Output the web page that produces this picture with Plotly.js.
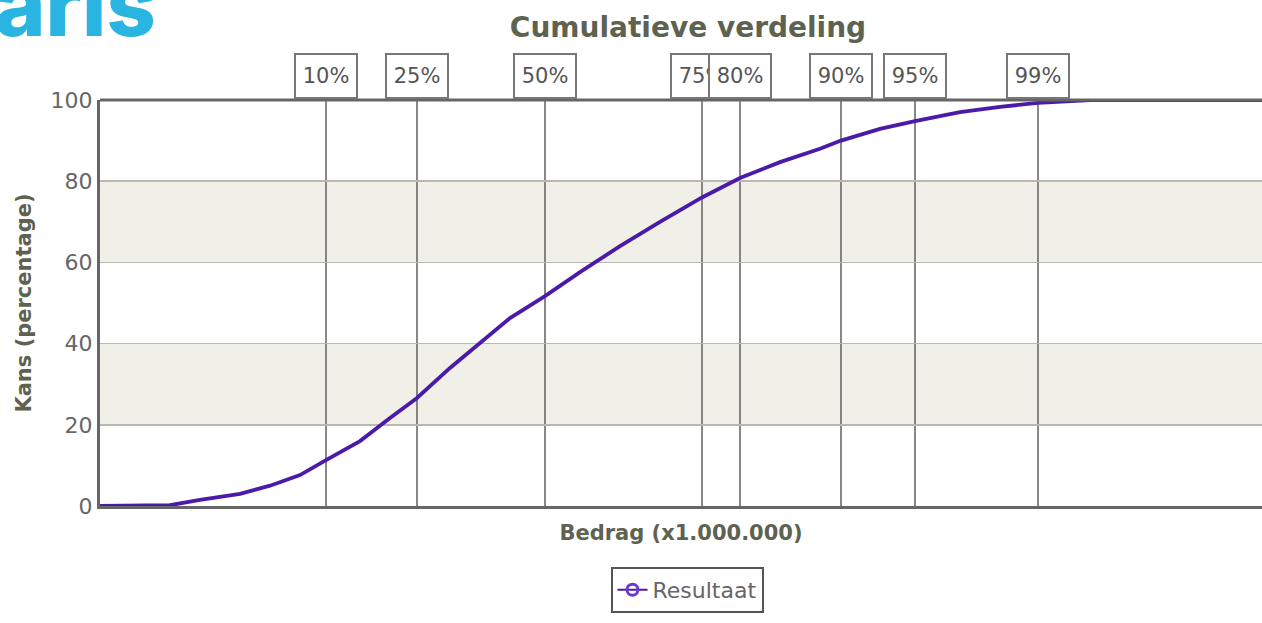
<!DOCTYPE html>
<html><head><meta charset="utf-8">
<script src="https://cdn.plot.ly/plotly-3.0.1.min.js"></script>
<style>html,body{margin:0;padding:0;background:#fff}#c{width:1262px;height:623px}</style>
</head><body><div id="c"></div>
<script>
// Bedrag (x1.000.000) — cumulative curve
const bedrag = [0, 0.70, 1.00, 1.40, 1.70, 2.00, 2.26, 2.60, 2.90, 3.17, 3.50, 3.80, 4.10, 4.45, 4.80, 5.20, 5.60, 6.02, 6.40, 6.80, 7.20, 7.41, 7.80, 8.15, 8.60, 9.00, 9.38, 9.90, 11.62];
const kans   = [0, 0.2, 1.5, 3.0, 5.0, 7.6, 11.3, 16.0, 21.7, 26.6, 34.0, 40.0, 46.3, 51.7, 57.6, 64.0, 70.0, 76.0, 80.8, 84.7, 88.0, 90.0, 92.9, 94.8, 97.0, 98.3, 99.3, 100, 100];
const percentielLabels = ["10%", "25%", "50%", "75%", "80%", "90%", "95%", "99%"];
const percentielBedrag = [2.26, 3.17, 4.45, 6.02, 6.40, 7.41, 8.15, 9.38];
const yTicks = [0, 20, 40, 60, 80, 100];

const font = "DejaVu Sans, Verdana, sans-serif";
const shapes = [];
[[20,40],[60,80]].forEach(b => shapes.push({type:'rect', xref:'paper', yref:'y', x0:0, x1:1, y0:b[0], y1:b[1], fillcolor:'#f0f0e9', line:{width:0}, layer:'below'}));
percentielBedrag.forEach(v => shapes.push({type:'line', xref:'x', yref:'paper', x0:v, x1:v, y0:0, y1:1, line:{color:'#606060', width:1.5}, layer:'below'}));
shapes.push({type:'line', xref:'paper', yref:'paper', x0:0, x1:1, y0:1, y1:1, line:{color:'#666', width:3}});

const annotations = percentielLabels.map((t,i) => ({
  text:t, xref:'x', yref:'paper', x:percentielBedrag[i], y:1.003, xanchor:'center', yanchor:'bottom',
  showarrow:false, bgcolor:'#fff', bordercolor:'#777', borderwidth:2, width:58, height:40,
  font:{family:font, size:21, color:'#555'}
}));
annotations.push({text:'aris', xref:'paper', yref:'paper', x:(158-100)/1162, y:1.235, xanchor:'right', yanchor:'middle',
  showarrow:false, font:{family:'Inter, Open Sans, sans-serif', size:86, weight:800, color:'#2ab4e2'}});

const traces = [
  {x:bedrag, y:kans, type:'scatter', mode:'lines', line:{color:'#4b1aa8', width:3.8}, showlegend:false, hoverinfo:'skip'},
  {x:[null], y:[null], type:'scatter', mode:'lines+markers', name:'Resultaat', line:{color:'#4b1aa8', width:2},
   marker:{symbol:'circle-open', size:11, color:'#6b3ac8', line:{width:3}}}
];

const layout = {
  width:1262, height:623,
  margin:{l:100, r:0, t:100, b:117},
  paper_bgcolor:'#fff', plot_bgcolor:'#fff',
  title:{text:'<b>Cumulatieve verdeling</b>', x:(688)/1262, xanchor:'center', y:1-27/623, yanchor:'middle',
    font:{family:font, size:28, color:'#5e6250'}},
  xaxis:{range:[0, 11.62], showticklabels:false, ticks:'', showgrid:false, zeroline:false,
    showline:true, linecolor:'#666', linewidth:3, fixedrange:true,
    title:{text:'<b>Bedrag (x1.000.000)</b>', standoff:18, font:{family:font, size:21, color:'#5e6250'}}},
  yaxis:{range:[0, 100], tickvals:yTicks, ticktext:yTicks.map(String), ticks:'', showgrid:true, gridcolor:'#b9b9b2', gridwidth:1.5,
    zeroline:false, showline:true, linecolor:'#666', linewidth:3, fixedrange:true,
    tickfont:{family:font, size:22, color:'#666'},
    title:{text:'<b>Kans (percentage)</b>', standoff:14, font:{family:font, size:21, color:'#5e6250'}}},
  showlegend:true,
  legend:{orientation:'h', x:(687-100)/1162, xanchor:'center', y:-0.15, yanchor:'top', bgcolor:'#fff',
    bordercolor:'#555', borderwidth:2, font:{family:font, size:22, color:'#666'}, itemwidth:30},
  shapes:shapes, annotations:annotations
};
Plotly.newPlot('c', traces, layout, {displayModeBar:false, staticPlot:true});
</script></body></html>
